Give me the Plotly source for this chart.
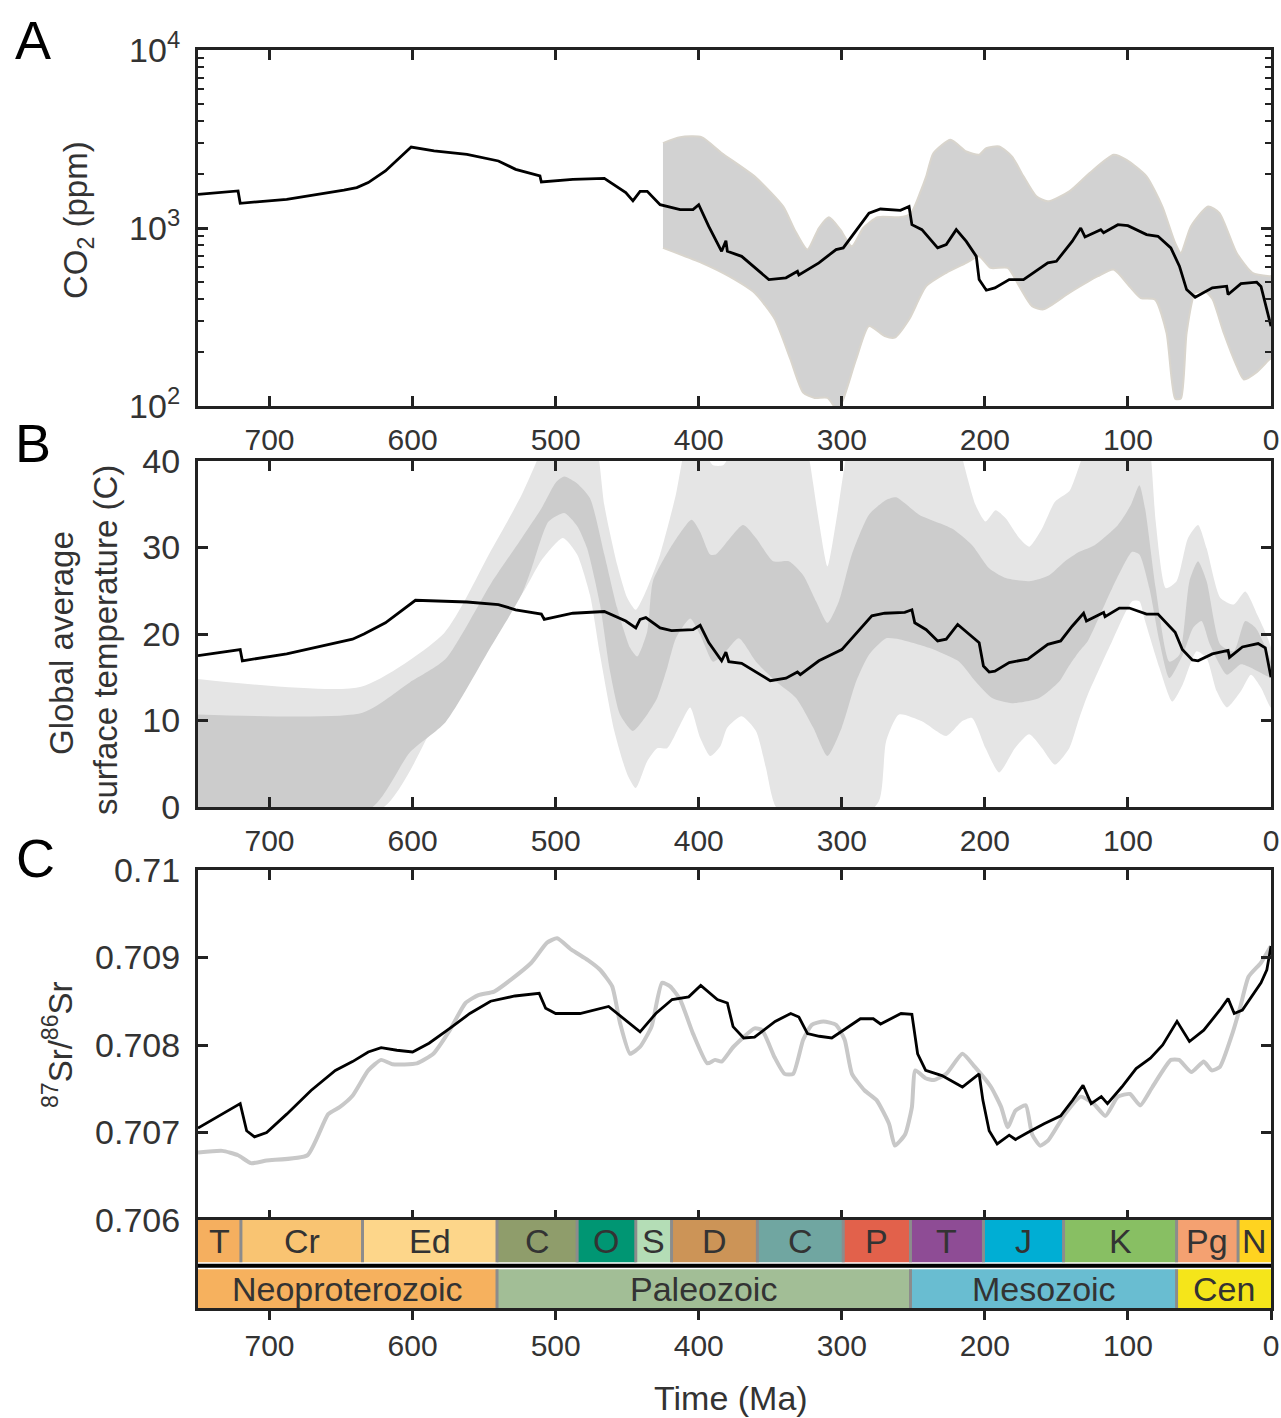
import plotly.graph_objects as go

# ---------------- Panel A : CO2 (ppm) ----------------
co2_ma = [750, 722, 720.5, 688, 648, 639, 631, 619, 601, 585, 562, 540, 528, 511, 510, 488, 466, 451, 446, 441,
          436, 427, 413, 404, 400, 393, 384, 381, 380, 370, 351, 339, 331, 330, 316, 304, 299, 281, 273, 259,
          253, 251, 244, 233, 227, 220, 213, 206, 204, 199, 193, 183, 173, 156, 150, 139, 133, 130, 119, 117,
          107, 100, 87, 79, 70, 64, 59, 53, 41, 31, 30, 21, 10, 7, 0]
co2_ppm = [1545, 1615, 1377, 1449, 1633, 1686, 1800, 2090, 2850, 2710, 2595, 2380, 2135, 1960, 1813, 1875, 1900, 1580, 1420, 1607,
           1607, 1352, 1268, 1268, 1352, 1021, 740, 848, 740, 693, 513, 525, 572, 545, 637, 757, 773, 1213, 1279, 1257,
           1322, 1044, 979, 773, 807, 979, 841, 693, 513, 447, 461, 513, 513, 637, 650, 841, 1000, 891, 979, 940,
           1044, 1031, 918, 898, 773, 610, 451, 408, 461, 471, 423, 487, 496, 470, 281]

co2_hi_ma = [425, 413, 398, 384, 361, 341, 333, 324, 316, 309, 301, 293, 285, 275, 260, 252, 245, 241, 236, 224,
             213, 204, 199, 190, 181, 173, 164, 156, 141, 127, 110, 101, 87, 76, 67, 63, 56, 44, 36, 24, 13, 1, 0]
co2_hi = [3000, 3240, 3240, 2640, 1950, 1322, 979, 757, 1000, 1148, 979, 789, 1000, 1150, 1150, 1200, 1600, 1950, 2630, 3130,
          2690, 2580, 2810, 2870, 2520, 1950, 1506, 1413, 1607, 2030, 2580, 2415, 1950, 1322, 824, 724, 1021, 1322, 1213, 724,
          560, 536, 536]
co2_lo_ma = [425, 398, 379, 361, 347, 336, 327, 319, 310, 303, 299, 290, 281, 270, 263, 253, 241, 227, 213, 204,
             196, 184, 176, 167, 159, 141, 121, 110, 99, 91, 81, 73, 67, 63, 59, 53, 46, 41, 33, 24, 19, 10, 1, 0]
co2_lo = [773, 637, 536, 432, 309, 184, 119, 111, 111, 95, 109, 183, 281, 247, 242, 306, 471, 560, 637, 693,
          597, 597, 471, 364, 349, 432, 536, 584, 471, 404, 396, 257, 110, 110, 257, 432, 440, 400, 257, 168,
          141, 155, 183, 185]

# ---------------- Panel B : temperature (C) ----------------
temp_ma = [750, 720.5, 719, 688, 642, 634, 619, 598, 562, 540, 528, 510, 508, 488, 466, 451, 444, 441, 437, 427,
           419, 404, 399, 393, 384, 381, 379, 370, 350, 339, 331, 329, 316, 300, 279, 270, 256, 251, 249, 241,
           233, 227, 219, 210, 204, 201, 197, 193, 183, 170, 156, 147, 139, 131, 129, 117, 116, 106, 99, 87,
           79, 67, 62, 55, 51, 41, 30, 29, 20, 9, 4, 0]
temp_c = [17.5, 18.2, 16.9, 17.7, 19.4, 20.0, 21.3, 23.9, 23.7, 23.4, 22.8, 22.3, 21.7, 22.4, 22.6, 21.5, 20.7, 21.7, 21.9, 20.7,
          20.4, 20.5, 21.0, 19.0, 16.9, 17.9, 16.8, 16.6, 14.6, 14.9, 15.6, 15.3, 16.9, 18.2, 22.1, 22.4, 22.5, 22.8, 21.3, 20.5,
          19.2, 19.4, 21.1, 19.8, 19.0, 16.3, 15.6, 15.7, 16.7, 17.1, 18.8, 19.2, 20.9, 22.4, 21.5, 22.5, 22.0, 23.0, 23.0, 22.3,
          22.3, 20.2, 18.2, 17.0, 16.9, 17.7, 18.1, 17.3, 18.5, 18.9, 18.4, 15.0]

light_hi_ma = [750, 636, 578, 545, 524, 512, 505, 475, 470, 466, 457, 450, 444, 436, 427, 416, 411, 405, 394, 390,
               383, 379, 372, 328, 323, 316, 310, 304, 297, 292, 221, 216, 206.5, 199.5, 192.5, 185.6, 176, 169, 160, 151,
               141, 136, 132, 128, 88, 84, 80.6, 73.5, 66, 58, 51, 45, 35.5, 26, 18, 9.5, 0]
light_hi = [14.8, 13.9, 20.1, 29.7, 36.0, 40.5, 44, 44, 40.5, 34.9, 28.0, 24.2, 22.8, 25.3, 29.2, 36.1, 40.5, 44, 40.5, 39.5,
            39.5, 40.5, 44, 44, 40.5, 33.0, 27.8, 33.0, 40.5, 44, 44, 40.5, 34.9, 33.0, 34.3, 33.4, 31.1, 30.1, 32.2, 35.3,
            36.5, 38.5, 40.5, 44, 44, 40.5, 33.0, 25.3, 26.1, 31.1, 32.6, 29.9, 24.2, 23.4, 24.9, 22.2, 18.4]
light_lo_ma = [750, 620, 574, 537, 524, 510, 495, 485, 476, 469, 459, 450, 444, 436, 429, 422, 413, 406, 399, 392,
               385, 380, 370, 360, 353, 346, 320, 297, 274, 269, 260, 244, 227, 216, 209, 199.5, 190, 179, 169, 160,
               151, 141, 134, 128, 111, 97, 92, 88, 78, 69, 61.6, 52, 45, 38, 30.8, 21, 14, 7, 0]
light_lo = [-5, 0, 13.2, 22.5, 24.5, 28.5, 31.1, 29.2, 24.5, 17.6, 8.8, 3.8, 2.2, 5.3, 6.8, 6.8, 9.5, 11.5, 8.0, 5.9,
            7.0, 9.2, 10.5, 8.8, 4.5, 0, -3, -3, 0.7, 7.6, 10.7, 9.9, 8.2, 9.9, 10.3, 6.8, 4.0, 6.8, 8.4, 6.8,
            4.9, 6.8, 10.3, 13.0, 19.2, 23.8, 23.8, 21.5, 16.1, 12.2, 14.2, 18.0, 17.2, 13.4, 11.5, 13.4, 15.3, 13.8, 11.5]

dark_hi_ma = [750, 635, 602, 577, 545, 524, 510, 500, 494, 485, 476, 466, 457, 448, 443, 436, 432, 420, 405, 399,
              392, 388, 369, 360, 348, 337, 327, 318, 310, 302, 293, 281, 269, 262, 246, 223, 209, 197, 186, 169,
              155, 144, 134, 123, 107, 98, 92, 88, 80.6, 71, 64, 57, 51, 45, 35.5, 26, 18, 10.7, 0]
dark_hi = [10.7, 10.9, 14.4, 17.1, 25.9, 31.0, 34.5, 37.5, 38.2, 37.4, 35.7, 29.2, 23.0, 18.4, 17.4, 20.3, 26.1, 29.9, 33.2, 31.8,
           29.2, 29.2, 32.6, 31.1, 28.4, 28.4, 26.8, 23.8, 21.3, 23.8, 29.2, 33.8, 35.5, 35.8, 33.8, 32.2, 30.3, 27.6, 26.5, 26.1,
           26.8, 28.4, 29.5, 30.3, 32.6, 34.9, 37.2, 34.5, 25.3, 16.8, 17.6, 26.1, 28.4, 26.1, 18.8, 18.0, 21.5, 20.7, 16.8]
dark_lo_ma = [750, 628, 602, 577, 545, 524, 517, 505, 494, 485, 478, 469, 462, 455, 446, 436, 429, 422, 416, 406,
              399, 390, 383, 372, 360, 346, 332, 320, 310, 300, 290, 281, 269, 260, 239, 218, 206.5, 195, 181, 162,
              148, 142, 134, 128, 111, 97, 92, 85, 78, 71, 61.6, 54.5, 48.6, 42.7, 30.8, 21, 14, 4.7, 0]
dark_lo = [-5, 0, 6.3, 9.8, 18.6, 24.5, 27.5, 33.0, 34.0, 32.5, 29.9, 23.4, 15.7, 10.7, 8.8, 10.7, 12.6, 16.1, 19.5, 21.8,
           19.9, 16.8, 17.6, 19.5, 16.8, 14.5, 12.6, 9.2, 5.9, 9.2, 14.5, 17.6, 19.5, 19.4, 18.4, 16.8, 14.5, 12.6, 12.0, 12.6,
           14.5, 16.1, 18.0, 19.2, 25.3, 29.5, 29.2, 25.3, 19.2, 14.9, 17.6, 20.7, 21.5, 18.8, 15.3, 16.5, 16.1, 15.3, 15.0]

# ---------------- Panel C : 87Sr/86Sr ----------------
sr_model_ma = [750, 720.5, 716, 710.5, 702, 688, 671, 654, 642, 631, 622, 611, 600, 588.5, 574, 560, 545.5, 528.5, 511.5, 507,
               500, 483, 463, 452, 441, 430, 418.6, 407, 398.6, 387, 380, 376, 368.6, 361, 346.6, 335.7, 330, 324, 315.7, 307,
               298.6, 287, 278, 272.9, 258.6, 251, 247, 241.4, 230, 215.7, 204, 201.4, 197, 191.4, 183, 178.6, 170, 158.6, 147, 138.6,
               131.4, 125.7, 118.6, 114.3, 104.3, 94.3, 84.3, 75.7, 65.7, 57, 47, 35.7, 30, 25.7, 20, 7, 2.9, 0]
sr_model = [0.70705, 0.70733, 0.70702, 0.70695, 0.70700, 0.70721, 0.70748, 0.70771, 0.70781, 0.70792,
            0.70797, 0.70794, 0.70792, 0.70802, 0.70819, 0.70836, 0.70850, 0.70856, 0.70859, 0.70842,
            0.70836, 0.70836, 0.70844, 0.70829, 0.70815, 0.70836, 0.70852, 0.70855, 0.70868, 0.70852,
            0.70848, 0.70821, 0.70808, 0.70809, 0.70827, 0.70836, 0.70832, 0.70813, 0.70810, 0.70808,
            0.70817, 0.70830, 0.70830, 0.70824, 0.70836, 0.70835, 0.70790, 0.70771, 0.70765, 0.70752,
            0.70767, 0.70737, 0.70702, 0.70687, 0.70697, 0.70692, 0.70700, 0.70710, 0.70719, 0.70737,
            0.70754, 0.70733, 0.70741, 0.70733, 0.70752, 0.70773, 0.70785, 0.70800, 0.70827, 0.70804,
            0.70817, 0.70840, 0.70853, 0.70836, 0.70840, 0.70871, 0.70886, 0.70913]

sr_data_ma = [750, 733, 722, 713, 702, 673.5, 659, 651, 642, 631, 622, 614, 597, 585.5, 574, 563, 554, 543, 531, 517,
              506, 499, 489, 477.5, 469, 460.5, 455, 448, 441, 433, 425.7, 420, 413, 404, 394, 388.6, 384, 375.7, 361, 355.7,
              347, 340, 334, 327, 321, 312.9, 304, 298, 292.9, 284, 275.7, 267, 262.9, 255.7, 251, 248.6, 241.4, 235.7, 227, 215.7,
              207, 195.7, 188.6, 184, 178.6, 171.4, 167, 161.4, 155.7, 144, 132.9, 124, 115.7, 107, 98.6, 91.4, 82.9, 70, 64.3, 55.7,
              47, 41.4, 35.7, 27, 21.4, 15.7, 7, 0]
sr_data = [0.70677, 0.70679, 0.70674, 0.70665, 0.70668, 0.70674, 0.70721, 0.70729, 0.70742, 0.70771,
           0.70783, 0.70778, 0.70779, 0.70790, 0.70817, 0.70848, 0.70857, 0.70861, 0.70875, 0.70894,
           0.70917, 0.70922, 0.70909, 0.70897, 0.70886, 0.70867, 0.70825, 0.70790, 0.70798, 0.70821,
           0.70871, 0.70867, 0.70852, 0.70813, 0.70779, 0.70783, 0.70781, 0.70798, 0.70819, 0.70817,
           0.70786, 0.70767, 0.70767, 0.70806, 0.70823, 0.70827, 0.70823, 0.70806, 0.70767, 0.70748,
           0.70737, 0.70710, 0.70685, 0.70698, 0.70729, 0.70771, 0.70762, 0.70760, 0.70767, 0.70790,
           0.70775, 0.70752, 0.70729, 0.70706, 0.70725, 0.70731, 0.70698, 0.70685, 0.70691, 0.70721,
           0.70741, 0.70733, 0.70719, 0.70741, 0.70744, 0.70731, 0.70752, 0.70783, 0.70783, 0.70769,
           0.70781, 0.70771, 0.70775, 0.70813, 0.70844, 0.70878, 0.70894, 0.70913]

# ---------------- Geological time scale ----------------
period_names = ["T", "Cr", "Ed", "C", "O", "S", "D", "C", "P", "T", "J", "K", "Pg", "N"]
period_start = [750, 720, 635, 541, 485, 444, 419, 359, 299, 252, 201, 145, 66, 23]
period_end = [720, 635, 541, 485, 444, 419, 359, 299, 252, 201, 145, 66, 23, 0]
period_colors = ["#F5AF5F", "#F9C472", "#FDD68A", "#8F9D6B", "#009673", "#B4DDB6", "#CC9457",
                 "#70A6A1", "#E2614B", "#8E4C95", "#00AED4", "#88BF63", "#F4A171", "#FFD320"]
era_names = ["Neoproterozoic", "Paleozoic", "Mesozoic", "Cen"]
era_start = [750, 541, 252, 66]
era_end = [541, 252, 66, 0]
era_colors = ["#F6B15E", "#A2BE96", "#69BDD1", "#F5E51A"]

x_ticks = [0, 100, 200, 300, 400, 500, 600, 700]
co2_ticks = [100, 1000, 10000]
co2_ticktext = ["10<sup>2</sup>", "10<sup>3</sup>", "10<sup>4</sup>"]
co2_minor = [200, 300, 400, 500, 600, 700, 800, 900, 2000, 3000, 4000, 5000, 6000, 7000, 8000, 9000]
temp_ticks = [0, 10, 20, 30, 40]
sr_ticks = [0.706, 0.707, 0.708, 0.709, 0.71]
sr_ticktext = ["0.706", "0.707", "0.708", "0.709", "0.71"]

# ---------------- figure ----------------
FONT = "Liberation Sans, Arial, Helvetica, sans-serif"
AX = "#222222"
TXT = "#333333"
W, H = 1281, 1418
ML, MR, MT, MB = 198, 10, 50, 110
PW, PH = W - ML - MR, H - MT - MB


def px2x(px):
    return (px - ML) / PW


def py2y(py):
    return 1 - (py - MT) / PH


fig = go.Figure()

# Panel A
fig.add_trace(go.Scatter(x=co2_hi_ma + co2_lo_ma[::-1], y=co2_hi + co2_lo[::-1], fill="toself",
                         fillcolor="#D2D2D2", line=dict(color="#D9D5CD", width=2, shape="spline", smoothing=0.6),
                         mode="lines", xaxis="x", yaxis="y", hoverinfo="skip"))
fig.add_trace(go.Scatter(x=co2_ma, y=co2_ppm, mode="lines", line=dict(color="black", width=2.8),
                         xaxis="x", yaxis="y"))

# Panel B
fig.add_trace(go.Scatter(x=light_hi_ma + light_lo_ma[::-1], y=light_hi + light_lo[::-1], fill="toself",
                         fillcolor="#E5E5E5", line=dict(width=0, shape="spline", smoothing=0.6),
                         mode="lines", xaxis="x2", yaxis="y2", hoverinfo="skip"))
fig.add_trace(go.Scatter(x=dark_hi_ma + dark_lo_ma[::-1], y=dark_hi + dark_lo[::-1], fill="toself",
                         fillcolor="#CCCCCC", line=dict(width=0, shape="spline", smoothing=0.6),
                         mode="lines", xaxis="x2", yaxis="y2", hoverinfo="skip"))
fig.add_trace(go.Scatter(x=temp_ma, y=temp_c, mode="lines", line=dict(color="black", width=2.8),
                         xaxis="x2", yaxis="y2"))

# Panel C
fig.add_trace(go.Scatter(x=sr_data_ma, y=sr_data, mode="lines",
                         line=dict(color="#C8C8C8", width=4, shape="spline", smoothing=0.5),
                         xaxis="x3", yaxis="y3"))
fig.add_trace(go.Scatter(x=sr_model_ma, y=sr_model, mode="lines", line=dict(color="black", width=2.8),
                         xaxis="x3", yaxis="y3"))

# Time scale bars
P_LO, P_HI, E_LO, E_HI = 0.52, 1.0, 0.0, 0.44
fig.add_trace(go.Bar(orientation="h", base=period_end,
                     x=[s - e for s, e in zip(period_start, period_end)],
                     y=[(P_LO + P_HI) / 2] * len(period_names), width=P_HI - P_LO,
                     marker=dict(color=period_colors, line=dict(width=0)),
                     xaxis="x4", yaxis="y4", hoverinfo="skip"))
fig.add_trace(go.Bar(orientation="h", base=era_end,
                     x=[s - e for s, e in zip(era_start, era_end)],
                     y=[(E_LO + E_HI) / 2] * len(era_names), width=E_HI - E_LO,
                     marker=dict(color=era_colors, line=dict(width=0)),
                     xaxis="x4", yaxis="y4", hoverinfo="skip"))

shapes = []
for b in period_end[:-1]:
    shapes.append(dict(type="line", xref="x4", yref="y4", x0=b, x1=b, y0=P_LO, y1=P_HI,
                       line=dict(color="#8C8C8C", width=3)))
for b in era_end[:-1]:
    shapes.append(dict(type="line", xref="x4", yref="y4", x0=b, x1=b, y0=E_LO, y1=E_HI,
                       line=dict(color="#8C8C8C", width=3)))
shapes.append(dict(type="line", xref="x4 domain", yref="y4", x0=0, x1=1, y0=(P_LO + E_HI) / 2,
                   y1=(P_LO + E_HI) / 2, line=dict(color="black", width=4)))

annotations = []
for name, s, e in zip(period_names, period_start, period_end):
    annotations.append(dict(xref="x4", yref="y4", x=(s + e) / 2, y=(P_LO + P_HI) / 2, text=name,
                            showarrow=False, font=dict(family=FONT, size=34, color=TXT),
                            xanchor="center", yanchor="middle"))
for name, s, e in zip(era_names, era_start, era_end):
    annotations.append(dict(xref="x4", yref="y4", x=(s + e) / 2, y=(E_LO + E_HI) / 2, text=name,
                            showarrow=False, font=dict(family=FONT, size=34, color=TXT),
                            xanchor="center", yanchor="middle"))

# Panel letters
for letter, px, py in [("A", 33, 40), ("B", 33, 443), ("C", 35, 858)]:
    annotations.append(dict(xref="paper", yref="paper", x=px2x(px), y=py2y(py), text=letter,
                            showarrow=False, font=dict(family=FONT, size=54, color="black"),
                            xanchor="center", yanchor="middle"))


# Axis titles
def ytitle(text, px, py):
    annotations.append(dict(xref="paper", yref="paper", x=px2x(px), y=py2y(py), text=text, textangle=-90,
                            showarrow=False, font=dict(family=FONT, size=33, color=TXT),
                            xanchor="center", yanchor="middle"))


ytitle("CO<sub>2</sub> (ppm)", 78, 220)
ytitle("Global average", 62, 643)
ytitle("surface temperature (C)", 105, 640)
ytitle("<sup>87</sup>Sr/<sup>86</sup>Sr", 58, 1045)
annotations.append(dict(xref="paper", yref="paper", x=px2x(731), y=py2y(1398), text="Time (Ma)",
                        showarrow=False, font=dict(family=FONT, size=34, color=TXT),
                        xanchor="center", yanchor="middle"))


def xax(domain_anchor, labels, ticks="inside", mirror="ticks", standoff=5):
    return dict(range=[750, 0], autorange=False, anchor=domain_anchor, domain=[0, 1], automargin=False,
                showline=True, linewidth=3, linecolor=AX, mirror=mirror,
                ticks=ticks, ticklen=10 if ticks == "inside" else 9, tickwidth=2.5, tickcolor=AX,
                tickvals=x_ticks, showticklabels=labels, showgrid=False, zeroline=False,
                tickfont=dict(family=FONT, size=30, color=TXT), ticklabelstandoff=standoff)


def yax(dom, **kw):
    d = dict(domain=dom, showline=True, linewidth=3, linecolor=AX, mirror="allticks", automargin=False,
             ticks="inside", ticklen=10, tickwidth=2.5, tickcolor=AX, showgrid=False, zeroline=False,
             tickfont=dict(family=FONT, size=34, color=TXT), ticklabelstandoff=8)
    d.update(kw)
    return d


dA = [py2y(406), py2y(50)]
dB = [py2y(807), py2y(461)]
dC = [py2y(1220), py2y(870)]
dT = [0, py2y(1220)]

fig.update_layout(
    width=W, height=H, margin=dict(l=ML, r=MR, t=MT, b=MB, autoexpand=False),
    paper_bgcolor="white", plot_bgcolor="white", showlegend=False, barmode="overlay",
    font=dict(family=FONT, color=TXT),
    xaxis=xax("y", True),
    xaxis2=xax("y2", True),
    xaxis3=xax("y3", False),
    xaxis4=xax("y4", True, ticks="outside", mirror=True, standoff=0),
    yaxis=yax(dA, type="log", range=[2, 4], tickvals=co2_ticks, ticktext=co2_ticktext,
              minor=dict(tickvals=co2_minor, ticks="inside", ticklen=6, tickwidth=2, tickcolor=AX, showgrid=False)),
    yaxis2=yax(dB, range=[0, 40], tickvals=temp_ticks),
    yaxis3=yax(dC, range=[0.706, 0.71], tickvals=sr_ticks, ticktext=sr_ticktext),
    yaxis4=dict(domain=dT, range=[0, 1], showline=True, linewidth=3, linecolor=AX, mirror=True, automargin=False,
                ticks="", showticklabels=False, showgrid=False, zeroline=False, fixedrange=True),
    shapes=shapes, annotations=annotations,
)

fig.write_html("out.html", config={"displayModeBar": False},
               post_script="document.body.style.margin='0';document.body.style.padding='0';"
                           "document.documentElement.style.overflow='hidden';")
